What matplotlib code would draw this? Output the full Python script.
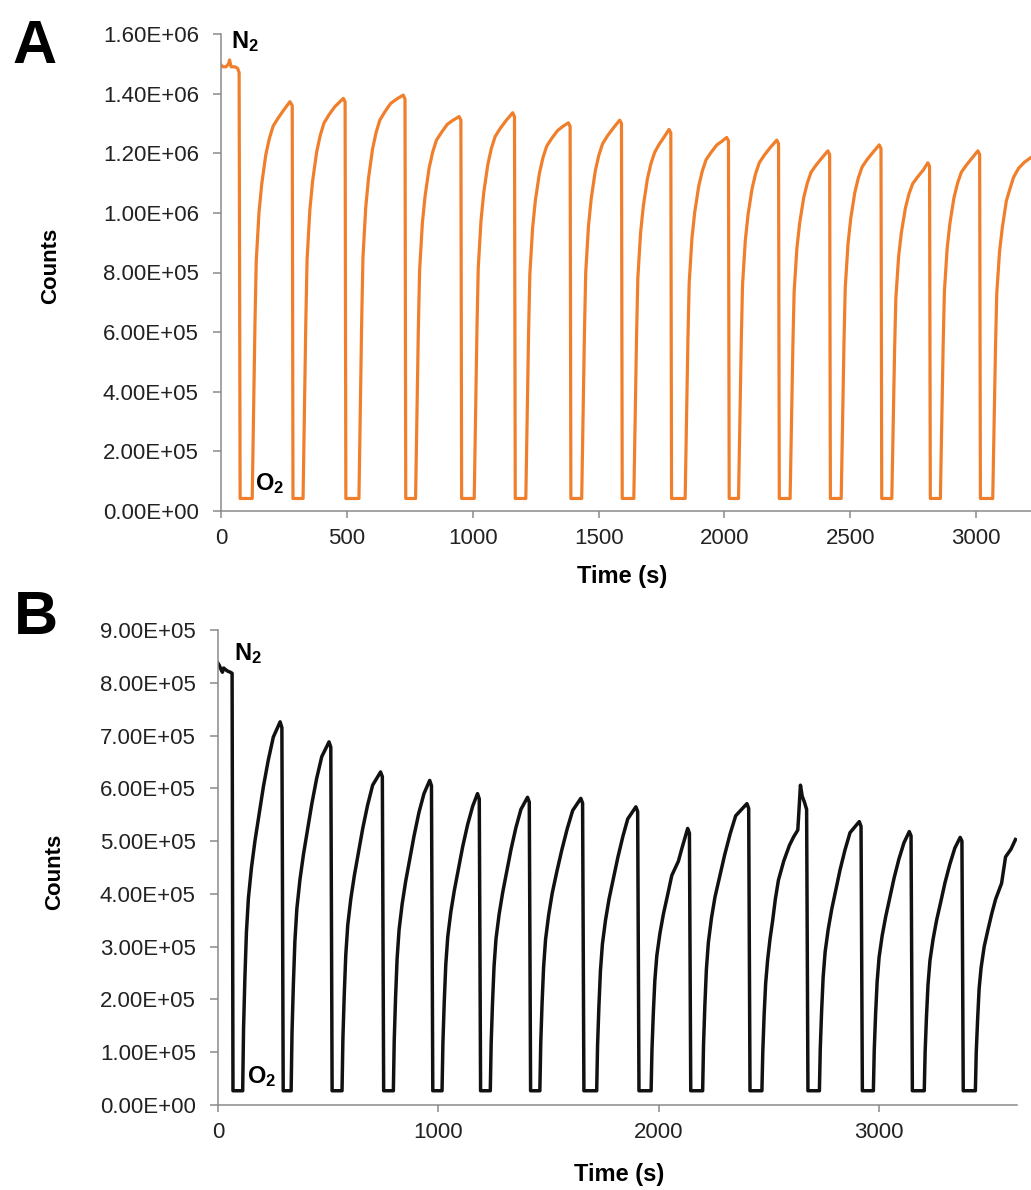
import matplotlib
matplotlib.use("Agg")
import matplotlib.pyplot as plt
from matplotlib.ticker import MultipleLocator, FuncFormatter

plt.rcParams['font.family'] = ['Liberation Sans', 'DejaVu Sans']
plt.rcParams['mathtext.fontset'] = 'custom'
plt.rcParams['mathtext.rm'] = 'Liberation Sans'
plt.rcParams['mathtext.bf'] = 'Liberation Sans:bold'

# ---- panel A (orange), counts in units of 1e6 ----
a_n2_t = [0, 8, 20, 30, 34, 40, 55, 66, 72]
a_n2_v = [1.496, 1.49, 1.49, 1.50, 1.513, 1.49, 1.49, 1.485, 1.47]
a_trough = 0.042
# switch to O2 (drop)
a_fall = [76, 286, 496, 734, 956, 1169, 1390, 1594, 1790, 2019, 2218, 2421, 2625, 2818, 3017]
# recovery under N2, each starts at the switch back
a_rec_t = [
    [124, 131, 135, 140, 151, 162, 178, 192, 207, 227, 250, 274, 283],
    [326, 333, 337, 342, 353, 364, 380, 394, 409, 429, 452, 486, 493],
    [548, 555, 559, 564, 575, 586, 602, 616, 631, 651, 674, 700, 724, 731],
    [773, 780, 784, 789, 800, 811, 827, 841, 856, 876, 899, 922, 946, 953],
    [1006, 1013, 1017, 1022, 1033, 1044, 1060, 1074, 1089, 1109, 1132, 1159, 1166],
    [1211, 1218, 1222, 1227, 1238, 1249, 1265, 1279, 1294, 1314, 1337, 1358, 1380, 1387],
    [1433, 1440, 1444, 1449, 1460, 1471, 1487, 1501, 1516, 1536, 1559, 1584, 1591],
    [1640, 1647, 1651, 1656, 1667, 1678, 1694, 1708, 1723, 1740, 1760, 1780, 1787],
    [1844, 1851, 1855, 1860, 1871, 1882, 1898, 1912, 1927, 1947, 1970, 1990, 2009, 2016],
    [2056, 2063, 2067, 2072, 2083, 2094, 2110, 2124, 2139, 2159, 2182, 2208, 2215],
    [2261, 2268, 2272, 2277, 2288, 2299, 2315, 2329, 2344, 2364, 2387, 2411, 2418],
    [2464, 2471, 2475, 2480, 2491, 2502, 2518, 2532, 2547, 2567, 2590, 2615, 2622],
    [2665, 2672, 2676, 2681, 2692, 2703, 2719, 2733, 2748, 2768, 2791, 2808, 2815],
    [2858, 2865, 2869, 2874, 2885, 2896, 2912, 2926, 2941, 2961, 2984, 3007, 3014],
    [3066, 3073, 3077, 3082, 3093, 3104, 3120, 3134, 3149, 3169, 3192, 3225],
]
a_rec_v = [
    [0.042, 0.412, 0.632, 0.838, 1.002, 1.098, 1.195, 1.249, 1.291, 1.318, 1.346, 1.373, 1.360],
    [0.042, 0.415, 0.637, 0.844, 1.010, 1.107, 1.204, 1.259, 1.301, 1.329, 1.356, 1.384, 1.372],
    [0.042, 0.419, 0.642, 0.851, 1.018, 1.116, 1.214, 1.269, 1.311, 1.339, 1.367, 1.383, 1.395, 1.382],
    [0.042, 0.397, 0.609, 0.807, 0.966, 1.058, 1.151, 1.204, 1.244, 1.270, 1.297, 1.311, 1.323, 1.311],
    [0.042, 0.401, 0.615, 0.815, 0.975, 1.069, 1.162, 1.216, 1.256, 1.283, 1.309, 1.336, 1.322],
    [0.042, 0.391, 0.599, 0.794, 0.950, 1.042, 1.133, 1.185, 1.224, 1.250, 1.276, 1.290, 1.302, 1.290],
    [0.042, 0.393, 0.603, 0.800, 0.957, 1.049, 1.141, 1.193, 1.232, 1.259, 1.285, 1.311, 1.300],
    [0.042, 0.384, 0.589, 0.781, 0.934, 1.024, 1.114, 1.165, 1.203, 1.229, 1.254, 1.280, 1.268],
    [0.042, 0.376, 0.576, 0.764, 0.915, 1.002, 1.090, 1.140, 1.178, 1.203, 1.228, 1.240, 1.253, 1.242],
    [0.042, 0.373, 0.572, 0.759, 0.908, 0.995, 1.082, 1.132, 1.169, 1.194, 1.219, 1.244, 1.232],
    [0.042, 0.362, 0.556, 0.737, 0.882, 0.966, 1.051, 1.099, 1.136, 1.160, 1.184, 1.208, 1.196],
    [0.042, 0.368, 0.565, 0.749, 0.896, 0.982, 1.068, 1.117, 1.154, 1.179, 1.203, 1.228, 1.216],
    [0.042, 0.350, 0.537, 0.712, 0.853, 0.934, 1.016, 1.063, 1.098, 1.121, 1.145, 1.168, 1.156],
    [0.042, 0.362, 0.556, 0.737, 0.882, 0.966, 1.051, 1.099, 1.136, 1.160, 1.184, 1.208, 1.196],
    [0.042, 0.36, 0.55, 0.73, 0.87, 0.95, 1.04, 1.08, 1.12, 1.15, 1.17, 1.19],
]

# ---- panel B (black), counts in units of 1e5 ----
b_n2_t = [0, 6, 14, 20, 26, 34, 44, 56, 64]
b_n2_v = [8.37, 8.33, 8.25, 8.20, 8.28, 8.25, 8.22, 8.20, 8.18]
b_trough = 0.27
b_fall = [68, 296, 518, 752, 975, 1192, 1419, 1661, 1911, 2146, 2415, 2678, 2925, 3152, 3383]
b_rec_t = [
    [112, 116, 122, 129, 138, 152, 168, 187, 206, 228, 251, 282, 290],
    [332, 336, 342, 349, 358, 372, 388, 407, 426, 448, 471, 504, 512],
    [563, 567, 573, 580, 589, 603, 619, 638, 657, 679, 702, 738, 746],
    [796, 800, 806, 813, 822, 836, 852, 871, 890, 912, 935, 961, 969],
    [1017, 1021, 1027, 1034, 1043, 1057, 1073, 1092, 1111, 1133, 1156, 1178, 1186],
    [1236, 1240, 1246, 1253, 1262, 1276, 1292, 1311, 1330, 1352, 1375, 1405, 1413],
    [1461, 1465, 1471, 1478, 1487, 1501, 1517, 1538, 1560, 1585, 1610, 1647, 1655],
    [1719, 1723, 1729, 1736, 1745, 1759, 1775, 1795, 1815, 1838, 1860, 1897, 1905],
    [1966, 1970, 1976, 1983, 1992, 2006, 2022, 2041, 2060, 2090, 2105, 2132, 2140],
    [2200, 2204, 2210, 2217, 2226, 2240, 2256, 2278, 2300, 2325, 2350, 2401, 2409],
    [2469, 2473, 2479, 2486, 2495, 2506, 2518, 2530, 2544, 2568, 2594, 2613, 2632, 2644,
     2652, 2662, 2672],
    [2730, 2734, 2740, 2747, 2756, 2770, 2786, 2805, 2824, 2846, 2869, 2911, 2919],
    [2975, 2979, 2985, 2992, 3001, 3015, 3031, 3050, 3069, 3091, 3114, 3138, 3146],
    [3206, 3210, 3216, 3223, 3232, 3246, 3262, 3281, 3300, 3322, 3345, 3369, 3377],
    [3438, 3442, 3448, 3455, 3464, 3478, 3494, 3512, 3530, 3557, 3575, 3600, 3620],
]
b_rec_v = [
    [0.27, 1.45, 2.40, 3.27, 3.92, 4.50, 5.01, 5.52, 6.03, 6.53, 6.97, 7.26, 7.15],
    [0.27, 1.38, 2.27, 3.10, 3.72, 4.27, 4.75, 5.23, 5.71, 6.19, 6.60, 6.88, 6.78],
    [0.27, 1.26, 2.08, 2.84, 3.41, 3.91, 4.35, 4.80, 5.24, 5.68, 6.06, 6.31, 6.22],
    [0.27, 1.23, 2.03, 2.77, 3.32, 3.81, 4.24, 4.67, 5.10, 5.54, 5.90, 6.15, 6.05],
    [0.27, 1.18, 1.95, 2.66, 3.19, 3.66, 4.07, 4.48, 4.90, 5.31, 5.66, 5.90, 5.80],
    [0.27, 1.17, 1.92, 2.62, 3.15, 3.61, 4.02, 4.43, 4.84, 5.25, 5.60, 5.83, 5.74],
    [0.27, 1.16, 1.92, 2.61, 3.14, 3.60, 4.01, 4.42, 4.82, 5.23, 5.58, 5.81, 5.72],
    [0.27, 1.13, 1.86, 2.54, 3.05, 3.50, 3.90, 4.29, 4.69, 5.09, 5.42, 5.65, 5.56],
    [0.27, 1.05, 1.73, 2.36, 2.83, 3.25, 3.62, 3.98, 4.35, 4.62, 4.85, 5.24, 5.15],
    [0.27, 1.14, 1.88, 2.57, 3.08, 3.54, 3.94, 4.34, 4.74, 5.14, 5.48, 5.71, 5.62],
    [0.27, 1.00, 1.70, 2.30, 2.75, 3.15, 3.50, 3.90, 4.26, 4.62, 4.92, 5.08, 5.21, 6.06,
     5.85, 5.74, 5.60],
    [0.27, 1.07, 1.77, 2.42, 2.90, 3.33, 3.71, 4.08, 4.46, 4.83, 5.16, 5.37, 5.28],
    [0.27, 1.04, 1.71, 2.33, 2.80, 3.21, 3.57, 3.94, 4.30, 4.66, 4.97, 5.18, 5.10],
    [0.27, 1.01, 1.67, 2.28, 2.74, 3.14, 3.50, 3.85, 4.21, 4.56, 4.87, 5.07, 5.00],
    [0.27, 1.00, 1.60, 2.20, 2.60, 3.00, 3.30, 3.62, 3.90, 4.20, 4.70, 4.85, 5.03],
]

W, H = 1031, 1190
SPINE = '#8a8a8a'


def build_trace(n2_t, n2_v, trough, falls, rec_t, rec_v, scale):
    t = list(n2_t)
    v = list(n2_v)
    for fall, rt, rv in zip(falls, rec_t, rec_v):
        t.append(fall)
        v.append(trough)
        t += rt
        v += rv
    return t, [x * scale for x in v]


def style_axes(ax, xmax, ymax, xstep, ystep):
    ax.set_xlim(0, xmax)
    ax.set_ylim(0, ymax)
    for s in ['top', 'right']:
        ax.spines[s].set_visible(False)
    for s in ['left', 'bottom']:
        ax.spines[s].set_color(SPINE)
        ax.spines[s].set_linewidth(1.1)
    ax.xaxis.set_major_locator(MultipleLocator(xstep))
    ax.yaxis.set_major_locator(MultipleLocator(ystep))
    ax.yaxis.set_major_formatter(FuncFormatter(lambda y, p: '%.2E' % y))
    ax.tick_params(axis='y', direction='out', length=6, width=1.1, color=SPINE,
                   labelsize=16, labelcolor='#222222', pad=10)
    ax.tick_params(axis='x', direction='out', length=5, width=1.1, color=SPINE,
                   labelsize=16, labelcolor='#222222', pad=7)
    ax.patch.set_visible(False)


def px(x, y):
    return x / W, 1 - y / H


def main():
    fig = plt.figure(figsize=(W / 100, H / 100), dpi=100)

    axA = fig.add_axes([221 / W, 1 - 511 / H, (W - 221) / W, (511 - 34) / H])
    axB = fig.add_axes([218 / W, 1 - 1105 / H, (1017 - 218) / W, (1105 - 630) / H])

    ta, va = build_trace(a_n2_t, a_n2_v, a_trough, a_fall, a_rec_t, a_rec_v, 1e6)
    tb, vb = build_trace(b_n2_t, b_n2_v, b_trough, b_fall, b_rec_t, b_rec_v, 1e5)

    axA.plot(ta, va, color='#F07F2C', lw=2.3, solid_joinstyle='round')
    axB.plot(tb, vb, color='#111111', lw=2.5, solid_joinstyle='round')

    style_axes(axA, 3218, 1.6e6, 500, 2e5)
    style_axes(axB, 3627, 9e5, 1000, 1e5)

    # panel letters
    fig.text(*px(12, 63), 'A', fontsize=44, fontweight='bold', va='baseline')
    fig.text(*px(14, 634), 'B', fontsize=44, fontweight='bold', va='baseline')

    # gas labels
    fig.text(*px(231, 48), r'$\mathbf{N_2}$', fontsize=17, va='baseline')
    fig.text(*px(255, 490), r'$\mathbf{O_2}$', fontsize=17, va='baseline')
    fig.text(*px(234, 660), r'$\mathbf{N_2}$', fontsize=17, va='baseline')
    fig.text(*px(247, 1083), r'$\mathbf{O_2}$', fontsize=17, va='baseline')

    # axis titles
    fig.text(*px(622, 576), 'Time (s)', fontsize=17, fontweight='bold', ha='center', va='center')
    fig.text(*px(619, 1174), 'Time (s)', fontsize=17, fontweight='bold', ha='center', va='center')
    fig.text(*px(51, 266), 'Counts', fontsize=16, fontweight='bold', rotation=90,
             ha='center', va='center')
    fig.text(*px(55, 872), 'Counts', fontsize=16, fontweight='bold', rotation=90,
             ha='center', va='center')

    fig.savefig('out.png', dpi=100)


if __name__ == "__main__":
    main()
